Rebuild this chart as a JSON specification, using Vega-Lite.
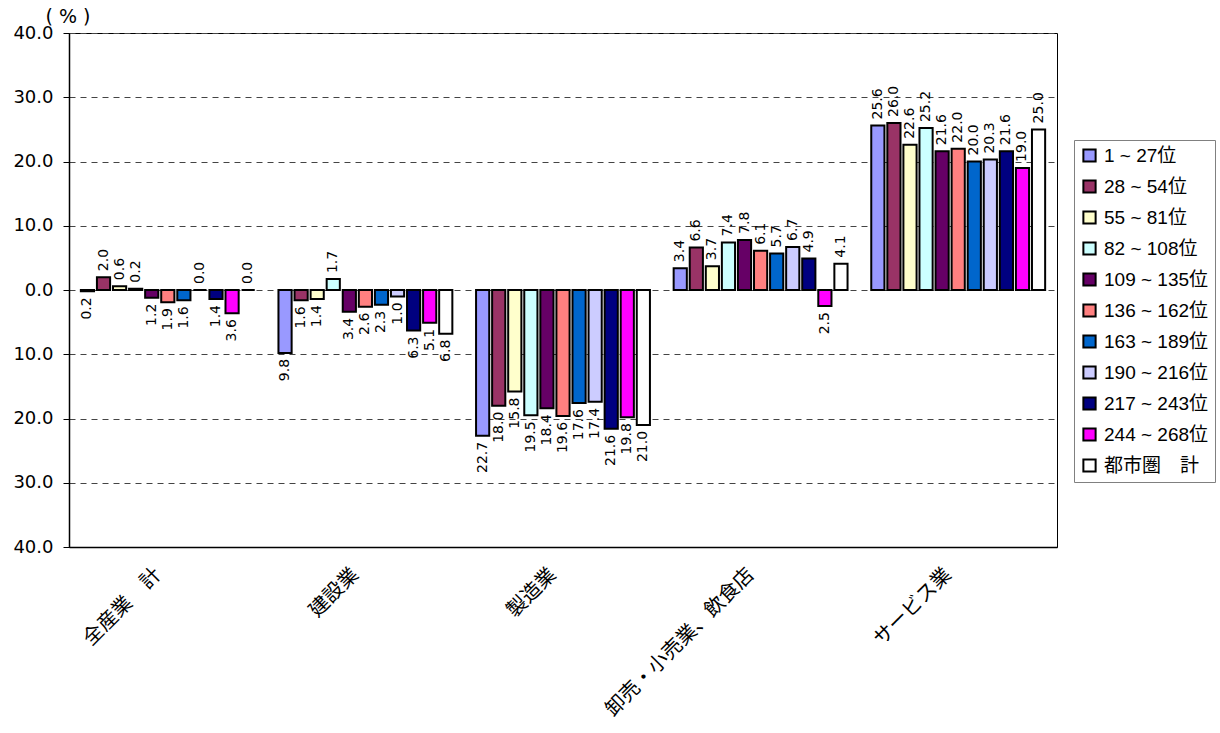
{
  "$schema": "https://vega.github.io/schema/vega-lite/v6.json",
  "autosize": {"type": "none"},
  "width": 988,
  "height": 514,
  "padding": {"left": 69, "top": 33, "right": 163, "bottom": 186},
  "background": "white",
  "config": {
    "view": {"stroke": "black", "strokeWidth": 1},
    "font": "Liberation Sans"
  },
  "data": {
    "values": [
      {"category": "全産業　計", "rank": "1 ~ 27位", "value": -0.2},
      {"category": "全産業　計", "rank": "28 ~ 54位", "value": 2.0},
      {"category": "全産業　計", "rank": "55 ~ 81位", "value": 0.6},
      {"category": "全産業　計", "rank": "82 ~ 108位", "value": 0.2},
      {"category": "全産業　計", "rank": "109 ~ 135位", "value": -1.2},
      {"category": "全産業　計", "rank": "136 ~ 162位", "value": -1.9},
      {"category": "全産業　計", "rank": "163 ~ 189位", "value": -1.6},
      {"category": "全産業　計", "rank": "190 ~ 216位", "value": 0.0},
      {"category": "全産業　計", "rank": "217 ~ 243位", "value": -1.4},
      {"category": "全産業　計", "rank": "244 ~ 268位", "value": -3.6},
      {"category": "全産業　計", "rank": "都市圏　計", "value": 0.0},
      {"category": "建設業", "rank": "1 ~ 27位", "value": -9.8},
      {"category": "建設業", "rank": "28 ~ 54位", "value": -1.6},
      {"category": "建設業", "rank": "55 ~ 81位", "value": -1.4},
      {"category": "建設業", "rank": "82 ~ 108位", "value": 1.7},
      {"category": "建設業", "rank": "109 ~ 135位", "value": -3.4},
      {"category": "建設業", "rank": "136 ~ 162位", "value": -2.6},
      {"category": "建設業", "rank": "163 ~ 189位", "value": -2.3},
      {"category": "建設業", "rank": "190 ~ 216位", "value": -1.0},
      {"category": "建設業", "rank": "217 ~ 243位", "value": -6.3},
      {"category": "建設業", "rank": "244 ~ 268位", "value": -5.1},
      {"category": "建設業", "rank": "都市圏　計", "value": -6.8},
      {"category": "製造業", "rank": "1 ~ 27位", "value": -22.7},
      {"category": "製造業", "rank": "28 ~ 54位", "value": -18.0},
      {"category": "製造業", "rank": "55 ~ 81位", "value": -15.8},
      {"category": "製造業", "rank": "82 ~ 108位", "value": -19.5},
      {"category": "製造業", "rank": "109 ~ 135位", "value": -18.4},
      {"category": "製造業", "rank": "136 ~ 162位", "value": -19.6},
      {"category": "製造業", "rank": "163 ~ 189位", "value": -17.6},
      {"category": "製造業", "rank": "190 ~ 216位", "value": -17.4},
      {"category": "製造業", "rank": "217 ~ 243位", "value": -21.6},
      {"category": "製造業", "rank": "244 ~ 268位", "value": -19.8},
      {"category": "製造業", "rank": "都市圏　計", "value": -21.0},
      {"category": "卸売・小売業、飲食店", "rank": "1 ~ 27位", "value": 3.4},
      {"category": "卸売・小売業、飲食店", "rank": "28 ~ 54位", "value": 6.6},
      {"category": "卸売・小売業、飲食店", "rank": "55 ~ 81位", "value": 3.7},
      {"category": "卸売・小売業、飲食店", "rank": "82 ~ 108位", "value": 7.4},
      {"category": "卸売・小売業、飲食店", "rank": "109 ~ 135位", "value": 7.8},
      {"category": "卸売・小売業、飲食店", "rank": "136 ~ 162位", "value": 6.1},
      {"category": "卸売・小売業、飲食店", "rank": "163 ~ 189位", "value": 5.7},
      {"category": "卸売・小売業、飲食店", "rank": "190 ~ 216位", "value": 6.7},
      {"category": "卸売・小売業、飲食店", "rank": "217 ~ 243位", "value": 4.9},
      {"category": "卸売・小売業、飲食店", "rank": "244 ~ 268位", "value": -2.5},
      {"category": "卸売・小売業、飲食店", "rank": "都市圏　計", "value": 4.1},
      {"category": "サービス業", "rank": "1 ~ 27位", "value": 25.6},
      {"category": "サービス業", "rank": "28 ~ 54位", "value": 26.0},
      {"category": "サービス業", "rank": "55 ~ 81位", "value": 22.6},
      {"category": "サービス業", "rank": "82 ~ 108位", "value": 25.2},
      {"category": "サービス業", "rank": "109 ~ 135位", "value": 21.6},
      {"category": "サービス業", "rank": "136 ~ 162位", "value": 22.0},
      {"category": "サービス業", "rank": "163 ~ 189位", "value": 20.0},
      {"category": "サービス業", "rank": "190 ~ 216位", "value": 20.3},
      {"category": "サービス業", "rank": "217 ~ 243位", "value": 21.6},
      {"category": "サービス業", "rank": "244 ~ 268位", "value": 19.0},
      {"category": "サービス業", "rank": "都市圏　計", "value": 25.0}
    ]
  },
  "encoding": {
    "x": {
      "field": "category",
      "type": "nominal",
      "sort": ["全産業　計", "建設業", "製造業", "卸売・小売業、飲食店", "サービス業"],
      "scale": {"paddingInner": 0.12, "paddingOuter": 0.06},
      "axis": {
        "title": null,
        "labelAngle": -45,
        "labelAlign": "right",
        "labelBaseline": "middle",
        "labelPadding": 24,
        "labelOffset": -10,
        "labelFont": "Noto Sans CJK JP",
        "labelFontSize": 20,
        "labelColor": "black",
        "labelLimit": 400,
        "ticks": false,
        "domainColor": "black",
        "domainWidth": 1.5
      }
    },
    "y": {
      "field": "value",
      "type": "quantitative",
      "scale": {"domain": [-40, 40], "nice": false, "zero": false},
      "axis": {
        "values": [-40, -30, -20, -10, 0, 10, 20, 30, 40],
        "labelExpr": "format(abs(datum.value), '.1f')",
        "labelFont": "DejaVu Sans",
        "labelFontSize": 18,
        "labelColor": "black",
        "labelPadding": 10,
        "tickSize": 6,
        "tickColor": "black",
        "domainColor": "black",
        "domainWidth": 1.5,
        "grid": true,
        "gridColor": "#444",
        "gridDash": [6, 5],
        "gridWidth": 1,
        "title": "( % )",
        "titleAngle": 0,
        "titleAlign": "left",
        "titleBaseline": "middle",
        "titleX": -24,
        "titleY": -17,
        "titleFont": "DejaVu Sans",
        "titleFontSize": 19,
        "titleFontWeight": "normal",
        "titleColor": "black"
      }
    }
  },
  "layer": [
    {
      "mark": {"type": "bar", "stroke": "black", "strokeWidth": 2, "opacity": 1},
      "encoding": {
        "xOffset": {
          "field": "rank",
          "type": "nominal",
          "sort": ["1 ~ 27位", "28 ~ 54位", "55 ~ 81位", "82 ~ 108位", "109 ~ 135位", "136 ~ 162位", "163 ~ 189位", "190 ~ 216位", "217 ~ 243位", "244 ~ 268位", "都市圏　計"],
          "scale": {"paddingInner": 0.18, "paddingOuter": 0}
        },
        "y2": {"datum": 0},
        "color": {
          "field": "rank",
          "type": "nominal",
          "scale": {
            "domain": ["1 ~ 27位", "28 ~ 54位", "55 ~ 81位", "82 ~ 108位", "109 ~ 135位", "136 ~ 162位", "163 ~ 189位", "190 ~ 216位", "217 ~ 243位", "244 ~ 268位", "都市圏　計"],
            "range": ["#9999FF", "#993366", "#FFFFCC", "#CCFFFF", "#660066", "#FF8080", "#0066CC", "#CCCCFF", "#000080", "#FF00FF", "#FFFFFF"]
          },
          "legend": {
            "title": null,
            "orient": "none",
            "legendX": 1005,
            "legendY": 107,
            "strokeColor": "#808080",
            "fillColor": "white",
            "padding": 6,
            "symbolType": "square",
            "symbolSize": 150,
            "symbolStrokeColor": "black",
            "symbolStrokeWidth": 2,
            "symbolOpacity": 1,
            "labelFont": "Liberation Sans, Noto Sans CJK JP",
            "labelFontSize": 19,
            "labelOffset": 5,
            "labelColor": "black",
            "labelLimit": 300,
            "rowPadding": 10
          }
        }
      }
    },
    {
      "mark": {"type": "rule", "color": "black", "strokeWidth": 1.2},
      "encoding": {"y": {"datum": 0}}
    },
    {
      "transform": [
        {"filter": "datum.value >= 0"},
        {"calculate": "format(abs(datum.value), '.1f')", "as": "label"}
      ],
      "mark": {"type": "text", "angle": 270, "align": "left", "baseline": "middle", "dx": 6, "font": "DejaVu Sans", "fontSize": 14, "color": "black"},
      "encoding": {
        "xOffset": {"field": "rank", "type": "nominal", "sort": ["1 ~ 27位", "28 ~ 54位", "55 ~ 81位", "82 ~ 108位", "109 ~ 135位", "136 ~ 162位", "163 ~ 189位", "190 ~ 216位", "217 ~ 243位", "244 ~ 268位", "都市圏　計"], "scale": {"paddingInner": 0.18, "paddingOuter": 0}},
        "text": {"field": "label", "type": "nominal"}
      }
    },
    {
      "transform": [
        {"filter": "datum.value < 0"},
        {"calculate": "format(abs(datum.value), '.1f')", "as": "label"}
      ],
      "mark": {"type": "text", "angle": 270, "align": "right", "baseline": "middle", "dx": -6, "font": "DejaVu Sans", "fontSize": 14, "color": "black"},
      "encoding": {
        "xOffset": {"field": "rank", "type": "nominal", "sort": ["1 ~ 27位", "28 ~ 54位", "55 ~ 81位", "82 ~ 108位", "109 ~ 135位", "136 ~ 162位", "163 ~ 189位", "190 ~ 216位", "217 ~ 243位", "244 ~ 268位", "都市圏　計"], "scale": {"paddingInner": 0.18, "paddingOuter": 0}},
        "text": {"field": "label", "type": "nominal"}
      }
    }
  ]
}
